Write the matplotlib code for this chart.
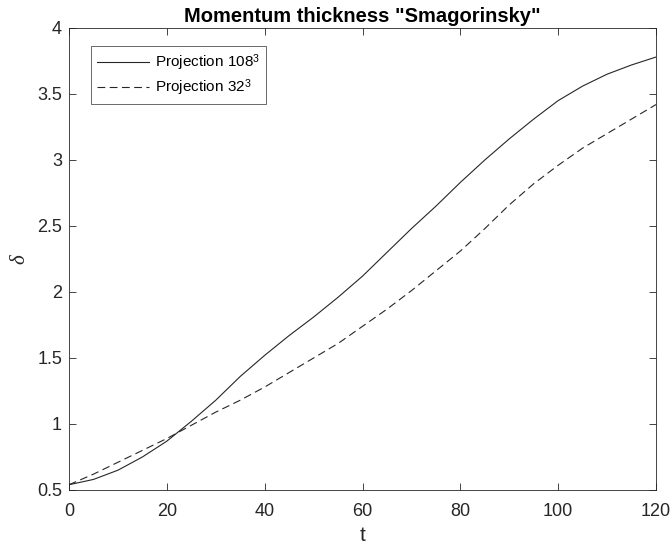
import numpy as np
import matplotlib.pyplot as plt

# Momentum thickness over time, two projection resolutions
t = [0, 5, 10, 15, 20, 25, 30, 35, 40, 45, 50, 55, 60,
     65, 70, 75, 80, 85, 90, 95, 100, 105, 110, 115, 120]
delta_108 = [0.54, 0.58, 0.65, 0.75, 0.87, 1.02, 1.18, 1.36, 1.52, 1.67, 1.81, 1.96, 2.12,
             2.30, 2.48, 2.65, 2.83, 3.00, 3.16, 3.31, 3.45, 3.56, 3.65, 3.72, 3.78]
delta_32 = [0.54, 0.62, 0.71, 0.80, 0.89, 0.99, 1.09, 1.18, 1.28, 1.39, 1.50, 1.61, 1.74,
            1.87, 2.01, 2.16, 2.31, 2.48, 2.66, 2.82, 2.96, 3.09, 3.20, 3.31, 3.42]

plt.rcParams['font.family'] = ['Liberation Sans', 'DejaVu Sans']
plt.rcParams['mathtext.fontset'] = 'custom'
plt.rcParams['mathtext.rm'] = 'Liberation Sans'
plt.rcParams['mathtext.it'] = 'Liberation Serif:italic'

dark = '#262626'

fig = plt.figure(figsize=(6.72, 5.51), dpi=100)
ax = fig.add_axes([69 / 672, 1 - 490 / 551, (656 - 69) / 672, (490 - 28) / 551])

ax.plot(t, delta_108, color=dark, lw=0.8, label='Projection 108$^3$')
ax.plot(t, delta_32, color=dark, lw=0.8, ls=(0, (7, 4)), label='Projection 32$^3$')

ax.set_xlim(0, 120)
ax.set_ylim(0.5, 4)
ax.set_xticks(np.arange(0, 121, 20))
ax.set_yticks(np.arange(0.5, 4.01, 0.5))
ax.set_yticklabels(['0.5', '1', '1.5', '2', '2.5', '3', '3.5', '4'])

ax.tick_params(direction='in', top=True, right=True, length=5, width=0.6,
               labelsize=13, colors=dark)
ax.tick_params(axis='x', pad=9)
ax.tick_params(axis='y', pad=5)
for s in ax.spines.values():
    s.set_linewidth(0.6)
    s.set_color(dark)

ax.set_title('Momentum thickness "Smagorinsky"', fontsize=14.5, fontweight='bold',
             color='black', pad=4)
ax.set_xlabel('t', fontsize=15, color=dark, labelpad=5)
ax.set_ylabel(r'$\delta$', fontsize=15, color=dark, labelpad=6)

leg = ax.legend(loc='upper left', bbox_to_anchor=(0.037, 0.96), fontsize=11,
                frameon=True, fancybox=False, handlelength=3.4, handletextpad=0.4,
                borderpad=0.4, labelspacing=0.25, borderaxespad=0)
leg.get_frame().set_edgecolor(dark)
leg.get_frame().set_linewidth(0.6)

fig.savefig('out.png', dpi=100)
